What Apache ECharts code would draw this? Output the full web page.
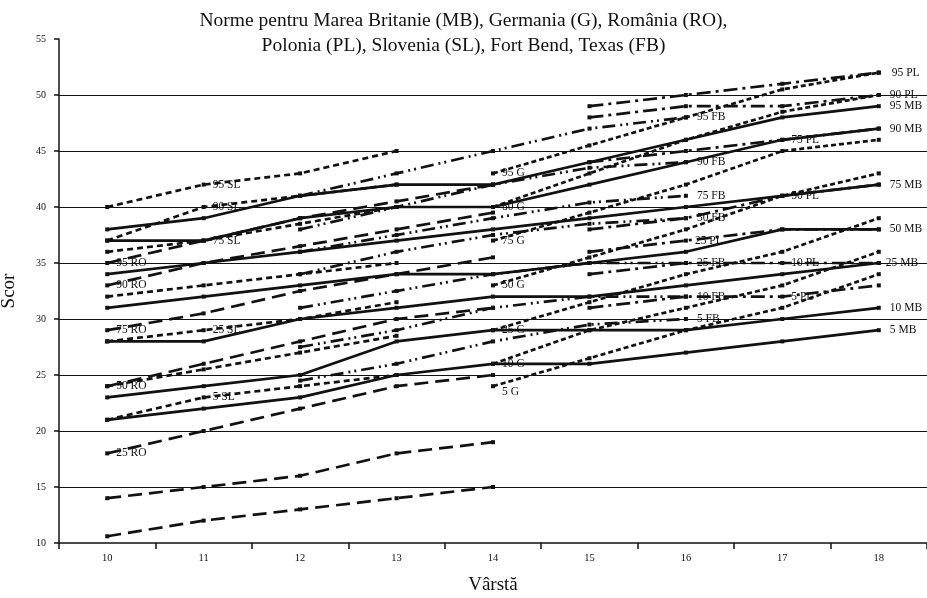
<!DOCTYPE html>
<html><head><meta charset="utf-8">
<script src="https://cdn.jsdelivr.net/npm/echarts@6/dist/echarts.min.js"></script>
<style>html,body{margin:0;padding:0;background:#fff}#c{width:927px;height:598px}</style>
</head><body><div id="c"></div>
<script>
const ages = ['10','11','12','13','14','15','16','17','18'];
const yTicks = [10,15,20,25,30,35,40,45,50,55];
// MB (ages 10-18)
const mb95 = [38,39,41,42,42,44,46,48,49];
const mb90 = [37,37,39,40,40,42,44,46,47];
const mb75 = [34,35,36,37,38,39,40,41,42];
const mb50 = [31,32,33,34,34,35,36,38,38];
const mb25 = [28,28,30,31,32,32,33,34,35];
const mb10 = [23,24,25,28,29,29,29,30,31];
const mb5  = [21,22,23,25,26,26,27,28,29];
// RO (ages 10-14)
const ro95 = [35,37,39,40.5,42,null,null,null,null];
const ro90 = [33,35,36.5,38,39.5,null,null,null,null];
const ro75 = [29,30.5,32.5,34,35.5,null,null,null,null];
const ro50 = [24,26,28,30,31,null,null,null,null];
const ro25 = [18,20,22,24,25,null,null,null,null];
const ro10 = [14,15,16,18,19,null,null,null,null];
const ro5  = [10.6,12,13,14,15,null,null,null,null];
// SL (ages 10-13)
const sl95 = [40,42,43,45,null,null,null,null,null];
const sl90 = [37,40,41,42,null,null,null,null,null];
const sl75 = [36,37,38.5,40,null,null,null,null,null];
const sl50 = [32,33,34,35,null,null,null,null,null];
const sl25 = [28,29,30,31.5,null,null,null,null,null];
const sl10 = [24,25.5,27,28.5,null,null,null,null,null];
const sl5  = [21,23,24,25,null,null,null,null,null];
// G (ages 14-18)
const g95 = [null,null,null,null,43,45.5,48,50.5,52];
const g80 = [null,null,null,null,40,43,46,48.5,50];
const g75 = [null,null,null,null,37,39.5,42,45,46];
const g50 = [null,null,null,null,33,35.5,38,41,43];
const g25 = [null,null,null,null,29,31.5,34,36,39];
const g10 = [null,null,null,null,26,29,31,33,36];
const g5  = [null,null,null,null,24,26.5,29,31,34];
// FB (ages 12-16)
const fb95 = [null,null,41,43,45,47,48,null,null];
const fb90 = [null,null,38,40,42,43.5,44,null,null];
const fb75 = [null,null,36,37.5,39,40.4,41,null,null];
const fb50 = [null,null,34,36,37.5,38.5,39,null,null];
const fb25 = [null,null,31,32.5,34,35,35,null,null];
const fb10 = [null,null,27.5,29,31,32,32,null,null];
const fb5  = [null,null,24.5,26,28,29.5,30,null,null];
// PL (ages 15-18)
const pl95 = [null,null,null,null,null,49,50,51,52];
const pl90 = [null,null,null,null,null,48,49,49,50];
const pl75 = [null,null,null,null,null,44,45,46,47];
const pl50 = [null,null,null,null,null,38,39,41,42];
const pl25 = [null,null,null,null,null,36,37,38,38];
const pl10 = [null,null,null,null,null,34,35,35,35];
const pl5  = [null,null,null,null,null,31,32,32,33];

const FONT = 'Liberation Serif';
const styles = {
  MB: {type:'solid'},
  RO: {type:[14,7]},
  SL: {type:[6,4]},
  G:  {type:[5,3]},
  FB: {type:[13,5,2,4,2,5]},
  PL: {type:[14,5,3,5]}
};
function mk(name, data, grp, labelIdx, pos, off){
  const d = data.map((v,i)=>{
    if(i===labelIdx && v!=null){
      return {value:v, label:{show:true, formatter:name, position:pos||'right', offset:off||[0,0]}};
    }
    return v;
  });
  return {
    name, type:'line', data:d, symbol:'rect', symbolSize:4, showSymbol:true,
    connectNulls:false, silent:true, animation:false,
    lineStyle:{color:'#111', width:2.7, type:styles[grp].type},
    itemStyle:{color:'#111'},
    label:{show:false, color:'#111', fontFamily:FONT, fontSize:11.5}
  };
}
const series = [
  mk('95 MB', mb95,'MB',8,'right',[4,0]),
  mk('90 MB', mb90,'MB',8,'right',[4,0]),
  mk('75 MB', mb75,'MB',8,'right',[4,0]),
  mk('50 MB', mb50,'MB',8,'right',[4,0]),
  mk('25 MB', mb25,'MB',8,'right',[0,0]),
  mk('10 MB', mb10,'MB',8,'right',[4,0]),
  mk('5 MB',  mb5, 'MB',8,'right',[4,0]),
  mk('95 RO', ro95,'RO',0,'right',[2,0]),
  mk('90 RO', ro90,'RO',0,'right',[2,0]),
  mk('75 RO', ro75,'RO',0,'right',[2,0]),
  mk('50 RO', ro50,'RO',0,'right',[2,0]),
  mk('25 RO', ro25,'RO',0,'right',[2,0]),
  mk('10 RO', ro10,'RO',-1),
  mk('5 RO',  ro5, 'RO',-1),
  mk('95 SL', sl95,'SL',1,'right',[2,0]),
  mk('90 SL', sl90,'SL',1,'right',[2,0]),
  mk('75 SL', sl75,'SL',1,'right',[2,0]),
  mk('50 SL', sl50,'SL',-1),
  mk('25 SL', sl25,'SL',1,'right',[2,0]),
  mk('10 SL', sl10,'SL',-1),
  mk('5 SL', sl5, 'SL',1,'right',[2,0]),
  mk('95 G', g95,'G',4,'right',[2,0]),
  mk('80 G', g80,'G',4,'right',[2,0]),
  mk('75 G', g75,'G',4,'right',[2,0]),
  mk('50 G', g50,'G',4,'right',[2,0]),
  mk('25 G', g25,'G',4,'right',[2,0]),
  mk('10 G', g10,'G',4,'right',[2,0]),
  mk('5 G',  g5, 'G',4,'right',[2,6]),
  mk('95 FB', fb95,'FB',6,'right',[4,0]),
  mk('90 FB', fb90,'FB',6,'right',[4,0]),
  mk('75 FB', fb75,'FB',6,'right',[4,0]),
  mk('50 FB', fb50,'FB',6,'right',[4,0]),
  mk('25 FB', fb25,'FB',6,'right',[4,0]),
  mk('10 FB', fb10,'FB',6,'right',[4,0]),
  mk('5 FB',  fb5, 'FB',6,'right',[4,0]),
  mk('95 PL', pl95,'PL',8,'right',[6,0]),
  mk('90 PL', pl90,'PL',8,'right',[4,0]),
  mk('75 PL', pl75,'PL',7,'right',[2,0]),
  mk('50 PL', pl50,'PL',7,'right',[2,0]),
  mk('25 PL', pl25,'PL',6,'right',[2,0]),
  mk('10 PL', pl10,'PL',7,'right',[2,0]),
  mk('5 PL',  pl5, 'PL',7,'right',[2,0])
];
const chart = echarts.init(document.getElementById('c'));
chart.setOption({
  backgroundColor:'#fff',
  animation:false,
  title:{text:'Norme pentru Marea Britanie (MB), Germania (G), România (RO),\nPolonia (PL), Slovenia (SL), Fort Bend, Texas (FB)',
    left:'center', top:3, textStyle:{fontFamily:FONT, fontWeight:'normal', fontSize:19.5, color:'#111', lineHeight:25}},
  grid:{left:59, right:0, top:39, bottom:55, containLabel:false, outerBoundsMode:'none'},
  xAxis:{type:'category', data:ages, boundaryGap:true,
    name:'Vârstă', nameLocation:'middle', nameGap:33,
    nameTextStyle:{fontFamily:FONT, fontSize:19, color:'#111'},
    axisLine:{lineStyle:{color:'#111', width:1.5}},
    axisTick:{show:true, length:6, lineStyle:{color:'#111', width:1.5}},
    axisLabel:{fontFamily:FONT, fontSize:10.5, color:'#111', margin:10},
    splitLine:{show:false}},
  yAxis:{type:'value', min:10, max:55, interval:5,
    name:'Scor', nameLocation:'middle', nameGap:40,
    nameTextStyle:{fontFamily:FONT, fontSize:19, color:'#111'},
    axisLine:{show:true, lineStyle:{color:'#111', width:1.5}},
    axisTick:{show:true, length:5, lineStyle:{color:'#111', width:1.5}},
    axisLabel:{fontFamily:FONT, fontSize:10, color:'#111', margin:13},
    splitLine:{show:true, showMinLine:false, showMaxLine:false, lineStyle:{color:'#111', width:1.2}}},
  series
});
</script></body></html>
